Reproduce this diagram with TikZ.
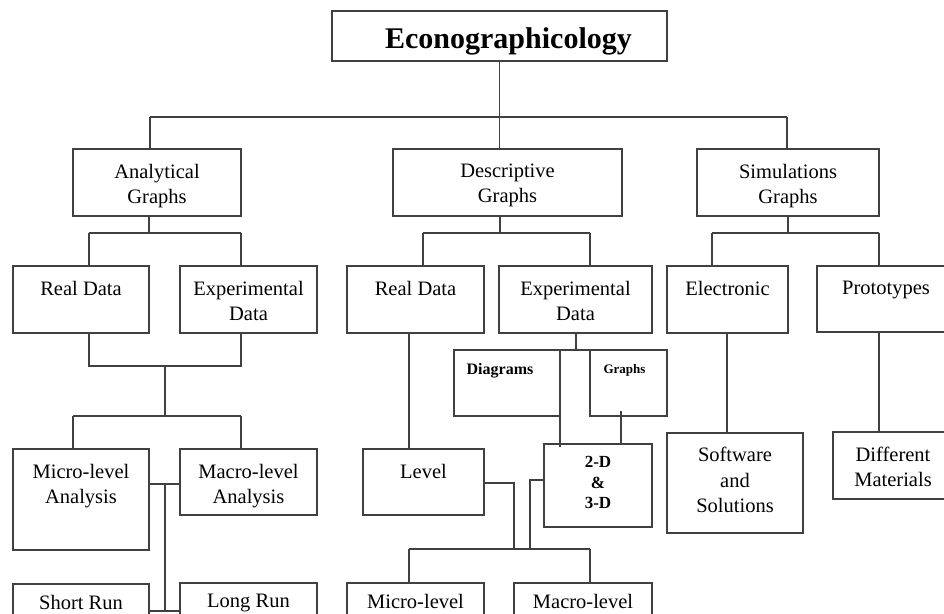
\documentclass[tikz,border=0pt]{standalone}
\usepackage{fontspec}
\setmainfont{Liberation Serif}
\tikzset{
  box/.style={draw=black!75, line width=1.3pt, inner sep=0pt, outer sep=0pt, fill=white},
  lbl/.style={anchor=north, yshift=-15pt, align=center, inner sep=0pt, text=black,
    font=\fontsize{20.5}{25}\selectfont},
  conn/.style={draw=black!75, line width=1.3pt},
}
\newcommand\bx[7]{\node[box,anchor=north west,minimum width={(#4-#2)*1pt},minimum height={(#5-#3)*1pt},label={[lbl,#7]north:#6}] (#1) at (#2,#3) {};}
\begin{document}
\begin{tikzpicture}[x=1pt,y=-1pt]
\useasboundingbox (0,0) rectangle (944,613);
\clip (0,0) rectangle (944,613);
\fill[white] (0,0) rectangle (944,613);
% boxes
\bx{top}{332}{11}{667}{61}{Econographicology}{font=\fontsize{30}{34}\selectfont\bfseries, yshift=-1pt, xshift=9pt}
\bx{ana}{73}{149}{241}{216}{Analytical\\Graphs}{}
\bx{des}{393}{149}{622}{216}{Descriptive\\Graphs}{}
\bx{sim}{697}{149}{879}{216}{Simulations\\Graphs}{}
\bx{rd1}{13}{266}{149}{333}{Real Data}{}
\bx{ed1}{180}{266}{317}{333}{Experimental\\Data}{}
\bx{rd2}{347}{266}{484}{333}{Real Data}{}
\bx{ed2}{499}{266}{652}{333}{Experimental\\Data}{}
\bx{ele}{667}{266}{788}{333}{Electronic}{}
\bx{pro}{817}{266}{955}{332}{Prototypes}{}
\bx{dia}{454}{350}{560}{416}{Diagrams}{font=\fontsize{16}{19}\selectfont\bfseries, yshift=2pt, xshift=-7pt}
\bx{gra}{590}{350}{667}{416}{Graphs}{font=\fontsize{13}{16}\selectfont\bfseries, yshift=1pt, xshift=-4pt}
\bx{mic1}{13}{449}{149}{550}{Micro-level\\Analysis}{}
\bx{mac1}{180}{449}{317}{515}{Macro-level\\Analysis}{}
\bx{lev}{363}{449}{484}{515}{Level}{}
\bx{tdd}{544}{444}{652}{527}{2-D\\\&\\3-D}{font=\fontsize{17}{20.5}\selectfont\bfseries, yshift=2.5pt}
\bx{sof}{667}{433}{803}{533}{Software\\and\\Solutions}{font=\fontsize{20.5}{25.5}\selectfont, yshift=1pt}
\bx{dif}{833}{432}{953}{499}{Different\\Materials}{}
\bx{sr1}{13}{584}{149}{660}{Short Run}{yshift=4pt}
\bx{lr1}{180}{583}{317}{660}{Long Run}{yshift=4pt}
\bx{mic2}{347}{583}{484}{660}{Micro-level}{yshift=4pt}
\bx{mac2}{514}{583}{652}{660}{Macro-level}{yshift=4pt}
% bus coordinates
\coordinate (b0L) at (150,117);
\coordinate (b0R) at (787,117);
\coordinate (aL) at (89,233);  \coordinate (aM) at (149,233); \coordinate (aR) at (241,233);
\coordinate (dL) at (423,233); \coordinate (dM) at (500,233); \coordinate (dR) at (590,233);
\coordinate (sL) at (712,233); \coordinate (sM) at (788,233); \coordinate (sR) at (879,233);
\coordinate (m1L) at (89,366); \coordinate (m1M) at (165,366); \coordinate (m1R) at (241,366);
\coordinate (m2L) at (73,416); \coordinate (m2M) at (165,416); \coordinate (m2R) at (241,416);
\coordinate (r1) at (165,484); \coordinate (r2) at (165,611);
\coordinate (e2) at (576,350);
\coordinate (g1) at (621,411);
\coordinate (l1) at (514,483); \coordinate (t1) at (530,480);
\coordinate (bL) at (409,549); \coordinate (bR) at (590,549);
\coordinate (el) at (727,333); \coordinate (pr) at (879,332);
% connectors
\draw[conn] (top.south) -- (top.south |- b0L);
\draw[conn] (b0L) -- (b0R);
\draw[conn] (b0L) -- (b0L |- ana.north);
\draw[conn] (top.south |- b0L) -- (top.south |- des.north);
\draw[conn] (b0R) -- (b0R |- sim.north);
% analytical
\draw[conn] (aM |- ana.south) -- (aM);
\draw[conn] (aL) -- (aR);
\draw[conn] (aL) -- (aL |- rd1.north);
\draw[conn] (aR) -- (aR |- ed1.north);
\draw[conn] (m1L |- rd1.south) -- (m1L) -- (m1R) -- (m1R |- ed1.south);
\draw[conn] (m1M) -- (m2M);
\draw[conn] (m2L) -- (m2R);
\draw[conn] (m2L) -- (m2L |- mic1.north);
\draw[conn] (m2R) -- (m2R |- mac1.north);
\draw[conn] (mic1.east |- r1) -- (mac1.west |- r1);
\draw[conn] (r1) -- (r2);
\draw[conn] (sr1.east |- r2) -- (lr1.west |- r2);
% descriptive
\draw[conn] (dM |- des.south) -- (dM);
\draw[conn] (dL) -- (dR);
\draw[conn] (dL) -- (dL |- rd2.north);
\draw[conn] (dR) -- (dR |- ed2.north);
\draw[conn] (bL |- rd2.south) -- (bL |- lev.north);
\draw[conn] (e2 |- ed2.south) -- (e2);
\draw[conn] (dia.north east) -- (gra.north west);
\draw[conn] (dia.north east) -- ([yshift=-3pt]dia.north east |- tdd.north);
\draw[conn] (g1) -- (g1 |- tdd.north);
\draw[conn] (lev.east |- l1) -- (l1) -- (l1 |- bL);
\draw[conn] (tdd.west |- t1) -- (t1) -- (t1 |- bL);
\draw[conn] (bL) -- (bR);
\draw[conn] (bL) -- (bL |- mic2.north);
\draw[conn] (bR) -- (bR |- mac2.north);
% simulations
\draw[conn] (sM |- sim.south) -- (sM);
\draw[conn] (sL) -- (sR);
\draw[conn] (sL) -- (sL |- ele.north);
\draw[conn] (sR) -- (sR |- pro.north);
\draw[conn] (el) -- (el |- sof.north);
\draw[conn] (pr) -- (pr |- dif.north);
\end{tikzpicture}
\end{document}
